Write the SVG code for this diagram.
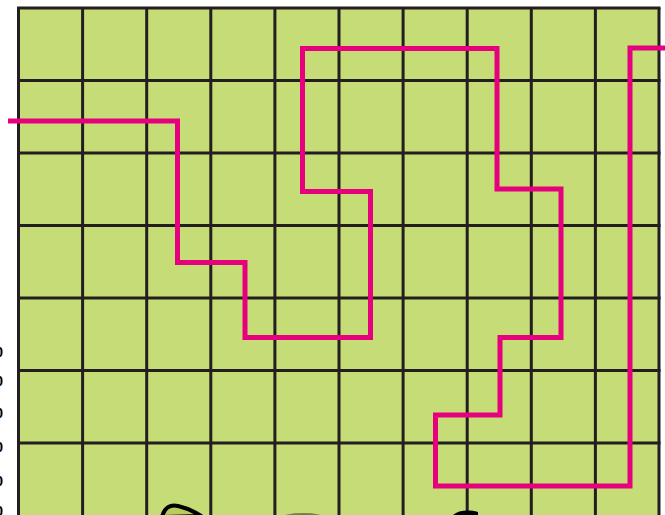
<svg xmlns="http://www.w3.org/2000/svg" width="665" height="515" viewBox="0 0 665 515">
<style>
.grid{stroke:#231f20;stroke-width:3;fill:none}
.route{stroke:#e6007e;stroke-width:5;fill:none;stroke-linejoin:miter;stroke-linecap:butt}
.blob{stroke:#000;stroke-width:4;fill:#b8cc5a}
.frag{font-family:"Liberation Sans",Arial,sans-serif;font-size:14px;font-weight:bold;fill:#000}
</style>
<rect width="665" height="515" fill="#ffffff"/>
<g id="board">
<rect x="18.5" y="8" width="640.5" height="510" fill="#c6dc76"/>
<path class="grid" d="M18.5 8V515M82.6 8V515M146.7 8V515M210.8 8V515M274.9 8V515M339 8V515M403.1 8V515M467.2 8V515M531.3 8V515M595.4 8V515M659 8V515"/>
<path class="grid" d="M17 8H660.5M17 80.5H660.5M17 153H660.5M17 225.5H660.5M17 298H660.5M17 370.5H660.5M17 443H660.5"/>
</g>
<g id="left-marks">
<text class="frag" x="3" y="357" text-anchor="end">0</text>
<text class="frag" x="3" y="386" text-anchor="end">0</text>
<text class="frag" x="3" y="418" text-anchor="end">0</text>
<text class="frag" x="3" y="452" text-anchor="end">0</text>
<text class="frag" x="3" y="486" text-anchor="end">0</text>
<text class="frag" x="3" y="516" text-anchor="end">0</text>
</g>
<g id="bottom-figures">
<path class="blob" d="M162 517C164 508 170 504 178 506C186 508 194 511 201 516Z"/>
<ellipse cx="303" cy="518" rx="22" ry="5" fill="#3a3f22" opacity="0.6"/>
<path d="M451 517C456 511 466 509 478 512L478 517Z" fill="#000"/>
</g>
<g id="connectors">
<path id="route" class="route" d="M8 121H177.5V262.5H245V337.5H370.5V191.5H302.5V48.5H497V189H561V337.5H500V415H435.5V486H630V48H665"/>
</g>
</svg>
